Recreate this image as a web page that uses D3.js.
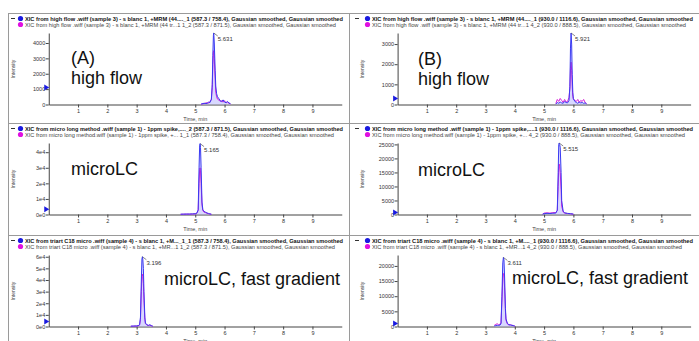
<!DOCTYPE html>
<html>
<head>
<meta charset="utf-8">
<script src="https://cdn.jsdelivr.net/npm/d3@7"></script>
<style>
  body { margin: 0; background: #fff; }
  text { font-family: "Liberation Sans", Arial, sans-serif; }
</style>
</head>
<body>
<script>
// ---- data (time in min, intensity in counts) ----
var timeA = [5.20, 5.30, 5.40, 5.45, 5.50, 5.55, 5.58, 5.60, 5.62, 5.631, 5.65, 5.68, 5.70, 5.73, 5.76, 5.80, 5.85, 5.90, 5.95, 6.00, 6.05, 6.10, 6.15, 6.20];
var blueA = [30, 80, 60, 150, 120, 350, 1300, 3200, 4500, 4650, 4000, 2200, 1200, 700, 500, 400, 250, 180, 300, 150, 120, 200, 100, 60];
var pinkA = [20, 60, 120, 80, 200, 300, 1100, 2600, 3400, 3500, 3000, 1600, 800, 500, 350, 300, 200, 250, 150, 250, 100, 150, 80, 40];

var timeB = [5.40, 5.45, 5.50, 5.55, 5.60, 5.65, 5.70, 5.75, 5.80, 5.85, 5.88, 5.90, 5.921, 5.94, 5.96, 5.98, 6.00, 6.05, 6.10, 6.15, 6.20, 6.25, 6.30, 6.35, 6.40, 6.45];
var blueB = [20, 100, 60, 120, 80, 60, 150, 100, 80, 200, 900, 2800, 3550, 3000, 1500, 600, 300, 150, 100, 60, 120, 80, 100, 60, 80, 30];
var pinkB = [50, 250, 150, 300, 200, 100, 250, 120, 150, 350, 800, 1800, 2100, 1700, 900, 400, 250, 200, 150, 250, 100, 200, 150, 250, 100, 50];

var timeC = [4.50, 4.60, 4.70, 4.80, 4.90, 5.00, 5.05, 5.10, 5.13, 5.15, 5.165, 5.18, 5.20, 5.23, 5.26, 5.30, 5.35, 5.40, 5.45, 5.50, 5.55];
var blueC = [200, 250, 300, 300, 400, 500, 800, 3000, 30000, 44000, 45500, 43000, 30000, 8000, 3000, 2000, 1500, 1000, 700, 400, 200];
var pinkC = [150, 200, 250, 250, 300, 400, 700, 2500, 20000, 29000, 30000, 28000, 20000, 6000, 2500, 1500, 1200, 800, 500, 300, 150];

var timeD = [4.95, 5.00, 5.10, 5.20, 5.30, 5.40, 5.45, 5.48, 5.50, 5.515, 5.53, 5.55, 5.58, 5.60, 5.65, 5.70, 5.80, 5.90, 6.00];
var blueD = [100, 300, 400, 350, 450, 500, 1500, 15000, 25000, 25500, 25000, 24000, 15000, 5000, 1200, 600, 400, 300, 150];
var pinkD = [150, 500, 600, 500, 650, 700, 1500, 10000, 17000, 18000, 17000, 15000, 9000, 3000, 900, 500, 350, 250, 100];

var timeE = [2.80, 2.90, 3.00, 3.05, 3.10, 3.13, 3.16, 3.18, 3.196, 3.21, 3.23, 3.25, 3.28, 3.30, 3.35, 3.40, 3.45, 3.50, 3.55];
var blueE = [300, 400, 500, 700, 1500, 8000, 40000, 58000, 60000, 58000, 50000, 30000, 8000, 3000, 1500, 1000, 1500, 800, 300];
var pinkE = [200, 300, 400, 600, 1200, 6000, 30000, 43000, 45000, 43000, 37000, 22000, 6000, 2500, 1200, 800, 1200, 600, 200];

var timeF = [3.30, 3.35, 3.40, 3.45, 3.50, 3.53, 3.56, 3.59, 3.611, 3.63, 3.65, 3.68, 3.70, 3.75, 3.80, 3.85, 3.90, 3.95, 4.00];
var blueF = [200, 300, 400, 350, 500, 1000, 10000, 21000, 22800, 22000, 17000, 6000, 2500, 1000, 600, 500, 400, 300, 150];
var pinkF = [400, 700, 900, 600, 800, 1200, 8000, 16000, 17500, 17000, 13000, 5000, 2000, 800, 500, 600, 400, 300, 100];

// axis tops and tick labels
var yMax = [4650, 3550, 45900, 25500, 61500, 23600];
var yTicks = [
  [0, 1000, 2000, 3000, 4000],
  [0, 1000, 2000, 3000],
  [0, 10000, 20000, 30000, 40000],
  [0, 5000, 10000, 15000, 20000, 25000],
  [0, 10000, 20000, 30000, 40000, 50000, 60000],
  [0, 5000, 10000, 15000, 20000]
];
var yTickLabels = [
  ["0", "1000", "2000", "3000", "4000"],
  ["0", "1000", "2000", "3000"],
  ["0e0", "1e4", "2e4", "3e4", "4e4"],
  ["0", "5000", "10000", "15000", "20000", "25000"],
  ["0e0", "1e4", "2e4", "3e4", "4e4", "5e4", "6e4"],
  ["0", "5000", "10000", "15000", "20000"]
];
var xTicks = [1, 2, 3, 4, 5, 6, 7, 8, 9];
var peakLabels = ["5.631", "5.921", "5.165", "5.515", "3.196", "3.611"];
var thresholdMarks = [1100, 300, 3300, 700, 4300, 1000];

var legendBlue = [
  "XIC from high flow .wiff (sample 3) - s blanc 1, +MRM (44...._1 (587.3 / 758.4), Gaussian smoothed, Gaussian smoothed",
  "XIC from high flow .wiff (sample 3) - s blanc 1, +MRM (44...._1 (930.0 / 1116.6), Gaussian smoothed, Gaussian smoothed",
  "XIC from micro long method .wiff (sample 1) - 1ppm spike,...._2 (587.3 / 871.5), Gaussian smoothed, Gaussian smoothed",
  "XIC from micro long method .wiff (sample 1) - 1ppm spike,....1 (930.0 / 1116.6), Gaussian smoothed, Gaussian smoothed",
  "XIC from triart C18 micro .wiff (sample 4) - s blanc 1, +M..._1_1 (587.3 / 758.4), Gaussian smoothed, Gaussian smoothed",
  "XIC from triart C18 micro .wiff (sample 4) - s blanc 1, +M...._1 (930.0 / 1116.6), Gaussian smoothed, Gaussian smoothed"
];
var legendPink = [
  "XIC from high flow .wiff (sample 3) - s blanc 1, +MRM (44 tr...1 1_2 (587.3 / 871.5), Gaussian smoothed, Gaussian smoothed",
  "XIC from high flow .wiff (sample 3) - s blanc 1, +MRM (44 tr...1 4_2 (930.0 / 888.5), Gaussian smoothed, Gaussian smoothed",
  "XIC from micro long method.wiff (sample 1) - 1ppm spike, +... 1_1 (587.3 / 758.4), Gaussian smoothed, Gaussian smoothed",
  "XIC from micro long method.wiff (sample 1) - 1ppm spike, +... 4_2 (930.0 / 888.5), Gaussian smoothed, Gaussian smoothed",
  "XIC from triart C18 micro .wiff (sample 4) - s blanc 1, +MR...1 1_2 (587.3 / 871.5), Gaussian smoothed, Gaussian smoothed",
  "XIC from triart C18 micro .wiff (sample 4) - s blanc 1, +MR...1 4_2 (930.0 / 888.5), Gaussian smoothed, Gaussian smoothed"
];
var bigLabels = [["(A)", "high flow"], ["(B)", "high flow"], ["microLC"], ["microLC"],
  ["microLC, fast gradient"], ["microLC, fast gradient"]];

var times = [timeA, timeB, timeC, timeD, timeE, timeF];
var blues = [blueA, blueB, blueC, blueD, blueE, blueF];
var pinks = [pinkA, pinkB, pinkC, pinkD, pinkE, pinkF];

// ---- layout ----
var W = 699, H = 341;
var colLeft = [8, 352];
var axisLeft = [48.75, 397.6];
var plotW = 293;
var rowTop = [13, 123, 235];
var blueEnd = [343, 693, 343, 693, 343, 693];
var pinkEnd = [336, 686, 334, 685, 335, 682];
// where the big captions sit: [x, baseline of each line]
var captionPos = [[71, 64, 84], [418, 64.5, 85], [71, 175], [418, 176], [164, 285], [512, 284]];

var blueCol = "#3a3af2", pinkCol = "#d820d8";

var svg = d3.select("body").append("svg")
  .attr("width", W)
  .attr("height", H);

// panel frame lines
var frame = svg.append("g").attr("stroke", "#9a9a9a").attr("stroke-width", 1);
rowTop.forEach(function (t) {
  frame.append("line").attr("x1", colLeft[0]).attr("x2", W).attr("y1", t + 0.5).attr("y2", t + 0.5);
});
frame.append("line").attr("x1", colLeft[0] + 0.5).attr("x2", colLeft[0] + 0.5).attr("y1", rowTop[0]).attr("y2", H);
frame.append("line").attr("x1", colLeft[1] - 2.5).attr("x2", colLeft[1] - 2.5).attr("y1", rowTop[0]).attr("y2", H);

function drawPanel(i) {
  var col = i % 2, row = Math.floor(i / 2);
  var top = rowTop[row];
  var g = svg.append("g");

  var x = d3.scaleLinear().domain([0, 10]).range([axisLeft[col], axisLeft[col] + plotW]);
  var y = d3.scaleLinear().domain([0, yMax[i]]).range([top + 91.5, top + 20]);

  // legend
  var lx = colLeft[col];
  var txtX = col === 0 ? lx + 17 : lx + 20;
  g.append("line").attr("x1", lx + 3).attr("x2", lx + 7).attr("y1", top + 5.5).attr("y2", top + 5.5)
    .attr("stroke", "#333");
  g.append("circle").attr("cx", txtX - 4.5).attr("cy", top + 5.5).attr("r", 2.6).attr("fill", "#1a1ae0");
  g.append("circle").attr("cx", txtX - 4.5).attr("cy", top + 11.5).attr("r", 2.6).attr("fill", "#e010e0");
  g.append("text").attr("x", txtX).attr("y", top + 7.5)
    .attr("font-size", 5.3).attr("font-weight", "bold").attr("fill", "#111")
    .attr("textLength", blueEnd[i] - txtX).attr("lengthAdjust", "spacingAndGlyphs")
    .text(legendBlue[i]);
  g.append("text").attr("x", txtX).attr("y", top + 13.5)
    .attr("font-size", 5.4).attr("fill", "#444")
    .attr("textLength", pinkEnd[i] - txtX).attr("lengthAdjust", "spacingAndGlyphs")
    .text(legendPink[i]);

  // axes
  var ya = g.append("g")
    .attr("transform", "translate(" + axisLeft[col] + ",0)")
    .call(d3.axisLeft(y).tickValues(yTicks[i])
      .tickFormat(function (d, j) { return yTickLabels[i][j]; })
      .tickSize(3).tickSizeOuter(0));
  ya.select(".domain").attr("stroke", "#444");
  ya.selectAll(".tick line").attr("stroke", "#444");
  ya.selectAll(".tick text").attr("font-size", 5.5).attr("fill", "#333")
    .attr("font-family", "Liberation Sans, Arial, sans-serif").attr("x", -3.5);

  var xa = g.append("g")
    .attr("transform", "translate(0," + (top + 91.5) + ")")
    .call(d3.axisBottom(x).tickValues(xTicks).tickSize(3).tickSizeOuter(0));
  xa.select(".domain").attr("stroke", "#444");
  xa.selectAll(".tick line").attr("stroke", "#444");
  xa.selectAll(".tick text").attr("font-size", 5.5).attr("fill", "#333")
    .attr("font-family", "Liberation Sans, Arial, sans-serif").attr("y", 5);

  // axis titles
  g.append("text")
    .attr("transform", "translate(" + (colLeft[col] + (col === 0 ? 6.5 : 12)) + "," + (top + 56) + ") rotate(-90)")
    .attr("text-anchor", "middle").attr("font-size", 5).attr("fill", "#444")
    .text("Intensity");
  g.append("text")
    .attr("x", axisLeft[col] + plotW / 2).attr("y", top + 107.5)
    .attr("text-anchor", "middle").attr("font-size", 5.5).attr("fill", "#444")
    .text("Time, min");

  // traces: light fill, magenta underneath, blue on top
  var pts = times[i].map(function (t, k) { return { t: t, b: blues[i][k], p: pinks[i][k] }; });
  g.append("path").datum(pts)
    .attr("fill", "#b8b8ff").attr("fill-opacity", 0.55)
    .attr("d", d3.area().x(function (d) { return x(d.t); })
      .y0(y(0)).y1(function (d) { return y(d.b); }));
  g.append("path").datum(pts)
    .attr("fill", "none").attr("stroke", pinkCol).attr("stroke-width", 1)
    .attr("d", d3.line().x(function (d) { return x(d.t); }).y(function (d) { return y(d.p); }));
  g.append("path").datum(pts)
    .attr("fill", "none").attr("stroke", blueCol).attr("stroke-width", 1)
    .attr("d", d3.line().x(function (d) { return x(d.t); }).y(function (d) { return y(d.b); }));

  // apex label with leader
  var pt = +peakLabels[i];
  var pMax = d3.max(blues[i]);
  var ax = x(pt), ay = y(pMax);
  g.append("line").attr("x1", ax).attr("y1", ay).attr("x2", ax + 4).attr("y2", ay + 3)
    .attr("stroke", "#555").attr("stroke-width", 0.7);
  g.append("text").attr("x", ax + 4).attr("y", ay + 8)
    .attr("font-size", 6).attr("fill", "#333").text(peakLabels[i]);

  // threshold marker at the y axis
  var my = y(thresholdMarks[i]), mx = axisLeft[col] - 1.5;
  g.append("path")
    .attr("d", "M" + (mx - 3) + "," + (my - 3) + "L" + (mx + 2) + "," + my + "L" + (mx - 3) + "," + (my + 3) + "Z")
    .attr("fill", "#1a1ae0");

  // big captions
  var cp = captionPos[i];
  bigLabels[i].forEach(function (s, k) {
    g.append("text").attr("x", cp[0]).attr("y", cp[k + 1])
      .attr("font-size", 18).attr("fill", "#111").text(s);
  });
}

for (var i = 0; i < 6; i++) drawPanel(i);
</script>
</body>
</html>
